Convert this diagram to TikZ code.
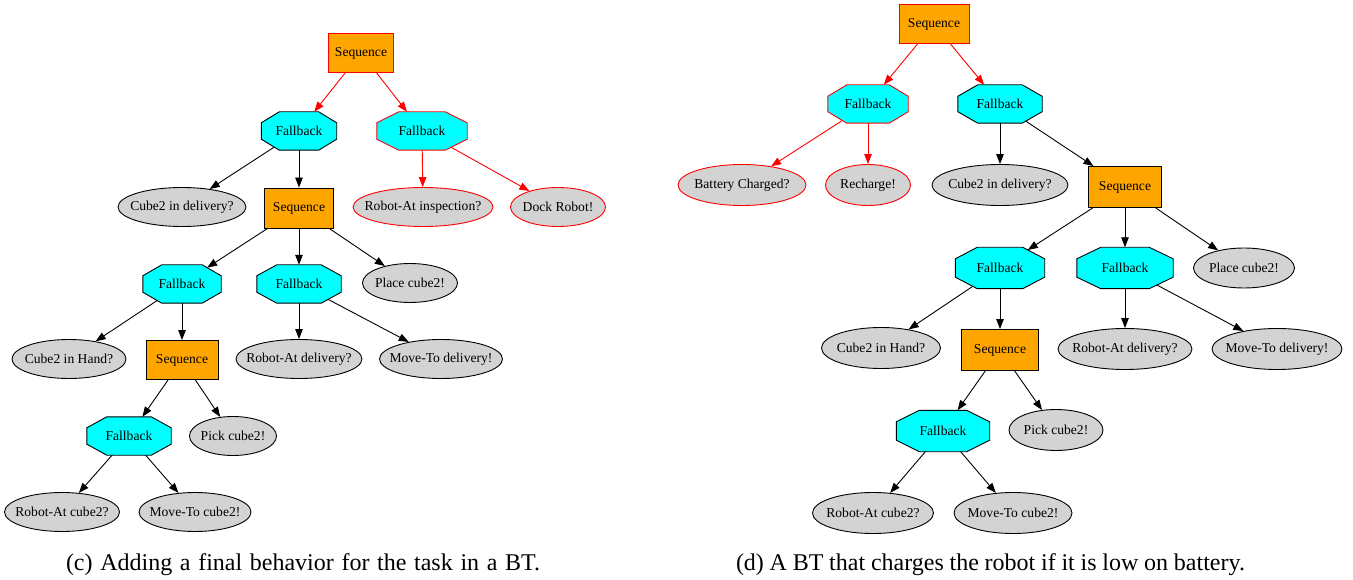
\documentclass[tikz,border=0pt]{standalone}
\usepackage{fontspec}
\setmainfont{Liberation Serif}
\usetikzlibrary{shapes.geometric,arrows.meta,intersections}
\definecolor{seqorange}{HTML}{FFA500}
\definecolor{fbcyan}{HTML}{00FFFF}
\definecolor{condgray}{HTML}{D3D3D3}
\pgfdeclarelayer{bg}
\pgfdeclarelayer{oct}
\pgfsetlayers{bg,oct,main}
\newcommand\zw[1]{\makebox[0pt]{#1}}
% octagon around a named rectangular node: name, x-chamfer, y-chamfer, border colour
\newcommand\octo[4]{%
  \begin{pgfonlayer}{oct}
  \filldraw[name path global=oct#1, fill=fbcyan, draw=#4, line width=0.9pt, line join=miter]
    ([xshift=#2]#1.north west) -- ([xshift=-#2]#1.north east) --
    ([yshift=-#3]#1.north east) -- ([yshift=#3]#1.south east) --
    ([xshift=-#2]#1.south east) -- ([xshift=#2]#1.south west) --
    ([yshift=#3]#1.south west) -- ([yshift=-#3]#1.north west) -- cycle;
  \end{pgfonlayer}}
% edge leaving an octagon: drawn from its centre, behind the octagon fill
\newcommand\fromoct[3]{%
  \begin{pgfonlayer}{bg}
  \draw[#1] (#2.center) -- (#3);
  \end{pgfonlayer}}
% edge entering an octagon: ends where it meets the octagon outline
\newcommand\intooct[3]{%
  \path[name path=tmp#2#3] (#2.center) -- (#3.center);
  \path[name intersections={of=tmp#2#3 and oct#3, by=ix#2#3}];
  \draw[#1] (#2) -- (ix#2#3);}
\tikzset{
  every node/.style={font=\fontsize{13.6}{16}\selectfont},
  seqbox/.style={rectangle, draw=black, fill=seqorange, line width=0.9pt, inner sep=0pt, minimum height=39pt},
  fbbox/.style={rectangle, inner sep=0pt, minimum height=38pt},
  condbox/.style={ellipse, draw=black, fill=condgray, line width=0.9pt, inner sep=0pt, minimum height=39pt},
  redb/.style={draw=red},
  edge/.style={draw=black, line width=0.9pt, -{Triangle[length=10pt,width=7.5pt]}},
  redge/.style={edge, draw=red, -{Triangle[length=10pt,width=7.5pt,fill=red]}, color=red},
  captext/.style={font=\fontsize{24}{28}\selectfont, anchor=center, inner sep=0pt}
}
\begin{document}
\begin{tikzpicture}[x=1pt,y=-1pt]
\useasboundingbox (0,0) rectangle (1353,580);
% ---------------- (c) ----------------
\node[seqbox, redb, minimum width=65pt] (s0) at (361,53) {Sequence};
\node[fbbox, minimum width=75pt] (f1) at (299,131) {Fallback};
\node[fbbox, minimum width=90pt] (f2) at (422,131) {Fallback};
\node[condbox, minimum width=128pt] (c1) at (182,207) {\zw{Cube2 in delivery?}};
\node[seqbox, minimum width=69pt, minimum height=40pt] (s1) at (299,208) {Sequence};
\node[condbox, redb, minimum width=140pt] (c2) at (423,207) {\zw{Robot-At inspection?}};
\node[condbox, redb, minimum width=95pt] (c3) at (558,207) {\zw{Dock Robot!}};
\node[fbbox, minimum width=78pt] (f3) at (182,284) {Fallback};
\node[fbbox, minimum width=84pt] (f4) at (299,284) {Fallback};
\node[condbox, minimum width=95pt] (c4) at (410,283) {\zw{Place cube2!}};
\node[condbox, minimum width=114pt] (c5) at (69,359) {\zw{Cube2 in Hand?}};
\node[seqbox, minimum width=72pt] (s2) at (182,360) {Sequence};
\node[condbox, minimum width=126pt] (c6) at (299,359) {\zw{Robot-At delivery?}};
\node[condbox, minimum width=123pt] (c7) at (441,359) {\zw{Move-To delivery!}};
\node[fbbox, minimum width=84pt] (f5) at (129,436) {Fallback};
\node[condbox, minimum width=87pt] (c8) at (233,436) {\zw{Pick cube2!}};
\node[condbox, minimum width=115pt] (c9) at (62,512) {\zw{Robot-At cube2?}};
\node[condbox, minimum width=112pt] (c10) at (195,512) {\zw{Move-To cube2!}};
\octo{f1}{18pt}{11pt}{black}
\octo{f2}{22pt}{11pt}{red}
\octo{f3}{19pt}{11pt}{black}
\octo{f4}{20pt}{11pt}{black}
\octo{f5}{20pt}{11pt}{black}
\intooct{redge}{s0}{f1}
\intooct{redge}{s0}{f2}
\fromoct{edge}{f1}{c1}
\fromoct{edge}{f1}{s1}
\fromoct{redge}{f2}{c2}
\fromoct{redge}{f2}{c3}
\intooct{edge}{s1}{f3}
\intooct{edge}{s1}{f4}
\draw[edge] (s1) -- (c4);
\fromoct{edge}{f3}{c5}
\fromoct{edge}{f3}{s2}
\fromoct{edge}{f4}{c6}
\fromoct{edge}{f4}{c7}
\intooct{edge}{s2}{f5}
\draw[edge] (s2) -- (c8);
\fromoct{edge}{f5}{c9}
\fromoct{edge}{f5}{c10}
\node[captext] (capc) at (303,565) {\makebox[474pt][s]{(c) Adding a final behavior for the task in a BT.}};
% ---------------- (d) ----------------
\node[seqbox, redb, minimum width=70pt] (t0) at (934,24) {Sequence};
\node[fbbox, minimum width=80pt] (g1) at (868,104) {Fallback};
\node[fbbox, minimum width=84pt] (g2) at (1000,104) {Fallback};
\node[condbox, redb, minimum width=128pt, minimum height=41pt] (d1) at (742,185) {\zw{Battery Charged?}};
\node[condbox, redb, minimum width=85pt, minimum height=41pt] (d2) at (868,185) {\zw{Recharge!}};
\node[condbox, minimum width=136pt, minimum height=41pt] (d3) at (1000,185) {\zw{Cube2 in delivery?}};
\node[seqbox, minimum width=73pt, minimum height=41pt] (t1) at (1125,187) {Sequence};
\node[fbbox, minimum width=89pt, minimum height=41pt] (g3) at (1000,268) {Fallback};
\node[fbbox, minimum width=96pt, minimum height=41pt] (g4) at (1125,268) {Fallback};
\node[condbox, minimum width=101pt, minimum height=40pt] (d4) at (1244,268) {\zw{Place cube2!}};
\node[condbox, minimum width=119pt, minimum height=41pt] (d5) at (881,348) {\zw{Cube2 in Hand?}};
\node[seqbox, minimum width=77pt, minimum height=41pt] (t2) at (1000,350) {Sequence};
\node[condbox, minimum width=134pt, minimum height=41pt] (d6) at (1125,349) {\zw{Robot-At delivery?}};
\node[condbox, minimum width=130pt, minimum height=41pt] (d7) at (1277,349) {\zw{Move-To delivery!}};
\node[fbbox, minimum width=93pt, minimum height=41pt] (g5) at (943,431) {Fallback};
\node[condbox, minimum width=94pt, minimum height=41pt] (d8) at (1056,430) {\zw{Pick cube2!}};
\node[condbox, minimum width=121pt, minimum height=41pt] (d9) at (873,513) {\zw{Robot-At cube2?}};
\node[condbox, minimum width=118pt, minimum height=41pt] (d10) at (1013,513) {\zw{Move-To cube2!}};
\octo{g1}{19pt}{11.5pt}{red}
\octo{g2}{20pt}{11.5pt}{black}
\octo{g3}{22pt}{11.5pt}{black}
\octo{g4}{24pt}{11.5pt}{black}
\octo{g5}{23pt}{11.5pt}{black}
\intooct{redge}{t0}{g1}
\intooct{redge}{t0}{g2}
\fromoct{redge}{g1}{d1}
\fromoct{redge}{g1}{d2}
\fromoct{edge}{g2}{d3}
\fromoct{edge}{g2}{t1}
\intooct{edge}{t1}{g3}
\intooct{edge}{t1}{g4}
\draw[edge] (t1) -- (d4);
\fromoct{edge}{g3}{d5}
\fromoct{edge}{g3}{t2}
\fromoct{edge}{g4}{d6}
\fromoct{edge}{g4}{d7}
\intooct{edge}{t2}{g5}
\draw[edge] (t2) -- (d8);
\fromoct{edge}{g5}{d9}
\fromoct{edge}{g5}{d10}
\node[captext] (capd) at (990.5,565) {\makebox[509pt][s]{(d) A BT that charges the robot if it is low on battery.}};
\end{tikzpicture}
\end{document}
